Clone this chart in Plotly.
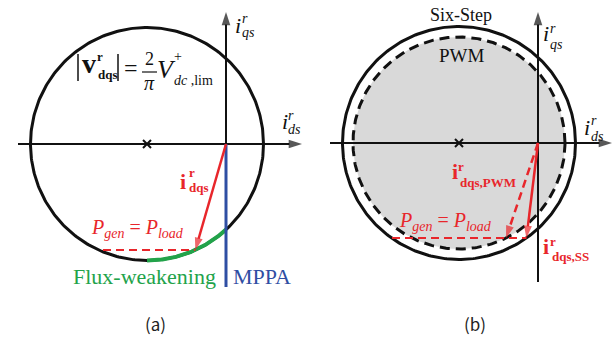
import numpy as np
import plotly.graph_objects as go

W, H = 615, 338
SERIF = "Liberation Serif"
CAPTION = "Noto Sans CJK KR"
RED = "#e8262b"
GREEN = "#22a34a"
BLUE = "#2f4ea3"
INK = "#111111"
GRAY = "#d9d9d9"

# ---- operating-plane quantities (per-unit current), panel (a) and panel (b) ----
panel_tags = ["(a)", "(b)"]
limit_center_id = [-0.79, -0.79]     # centre of the voltage-limit circle on the d-axis
six_step_radius = [1.165, 1.165]     # radius of the six-step voltage-limit circle
pwm_radius = 1.06                    # radius of the PWM voltage-limit circle, panel (b)
p_load_iq = [-1.06, -0.95]           # q-current level where P_gen = P_load
p_line_from_id = [-1.23, -1.46]      # left end of the constant-power guide line

# ---- layout: pixel position of each panel origin, 100 px per unit ----
PX = 100.0
origin_px = [(226, 144), (538, 143)]
panel_px = [(0, 307.5), (307.5, 615)]

fig = go.Figure()
annotations, shapes = [], []


def axes_of(k):
    return ("x", "y") if k == 0 else ("x2", "y2")


def circle(k, r, n=361):
    t = np.linspace(0, 2 * np.pi, n)
    return limit_center_id[k] + r * np.cos(t), r * np.sin(t)


def arc(k, r, t0, t1, n=120):
    t = np.linspace(t0, t1, n)
    return limit_center_id[k] + r * np.cos(t), r * np.sin(t)


def right_branch(k, r, iq):
    return limit_center_id[k] + np.sqrt(r ** 2 - iq ** 2)


def line(k, xs, ys, color, width, dash="solid", head=0):
    xa, ya = axes_of(k)
    fig.add_trace(go.Scatter(
        x=xs, y=ys, xaxis=xa, yaxis=ya,
        mode="lines+markers" if head else "lines",
        line=dict(color=color, width=width, dash=dash),
        marker=dict(symbol="arrow", angleref="previous",
                    size=[0] * (len(xs) - 1) + [head], color=color,
                    line=dict(width=0)),
        hoverinfo="skip", showlegend=False))


def txt(x, y, s, size, color=INK, xanchor="center", family=SERIF):
    annotations.append(dict(
        x=x / W, y=1 - y / H, xref="paper", yref="paper", text=s,
        showarrow=False, xanchor=xanchor, yanchor="middle",
        font=dict(size=size, color=color, family=family)))


def seg(x0, y0, x1, y1, width=1.5, color=INK):
    shapes.append(dict(type="line", xref="paper", yref="paper",
                       x0=x0 / W, y0=1 - y0 / H, x1=x1 / W, y1=1 - y1 / H,
                       line=dict(color=color, width=width)))


# ================= panel (a) =================
k = 0
cx, cy = circle(k, six_step_radius[k])
line(k, cx, cy, INK, 3)
# flux-weakening segment: bottom of the circle up to the q-axis
t_end = -np.arccos(-limit_center_id[k] / six_step_radius[k])
gx, gy = arc(k, six_step_radius[k], -np.pi / 2, t_end)
line(k, gx, gy, GREEN, 4)
# d-q axes
line(k, [-2.08, 0.76], [0, 0], INK, 2, head=14)
line(k, [0, 0], [0, 1.32], INK, 2, head=14)
# MPPA line along the negative q-axis
line(k, [0, 0], [0, -1.43], BLUE, 3)
fig.add_trace(go.Scatter(x=[limit_center_id[k]], y=[0], xaxis="x", yaxis="y",
                         mode="markers", marker=dict(symbol="x-thin", size=8,
                         line=dict(width=2, color=INK)), hoverinfo="skip",
                         showlegend=False))
tip_a = right_branch(k, six_step_radius[k], p_load_iq[k])
line(k, [p_line_from_id[k], tip_a], [p_load_iq[k]] * 2, RED, 2, dash="8px,5px")
line(k, [0, tip_a], [0, p_load_iq[k]], RED, 2.5, head=13)

# ================= panel (b) =================
k = 1
px_, py_ = circle(k, pwm_radius)
fig.add_trace(go.Scatter(x=px_, y=py_, xaxis="x2", yaxis="y2", mode="lines",
                         fill="toself", fillcolor=GRAY, line=dict(width=0),
                         hoverinfo="skip", showlegend=False))
line(k, px_, py_, INK, 3, dash="10px,6px")
sx, sy = circle(k, six_step_radius[k])
line(k, sx, sy, INK, 3)
line(k, [-2.08, 0.74], [0, 0], INK, 2, head=14)
line(k, [0, 0], [-1.39, 1.31], INK, 2, head=14)
fig.add_trace(go.Scatter(x=[limit_center_id[k]], y=[0], xaxis="x2", yaxis="y2",
                         mode="markers", marker=dict(symbol="x-thin", size=8,
                         line=dict(width=2, color=INK)), hoverinfo="skip",
                         showlegend=False))
tip_ss = right_branch(k, six_step_radius[k], p_load_iq[k])
tip_pwm = right_branch(k, pwm_radius, p_load_iq[k])
line(k, [p_line_from_id[k], tip_ss], [p_load_iq[k]] * 2, RED, 2, dash="8px,5px")
line(k, [0, tip_pwm], [0, p_load_iq[k]], RED, 2.5, dash="8px,5px", head=13)
line(k, [0, tip_ss], [0, p_load_iq[k]], RED, 2.5, head=13)

# ================= labels =================
# panel (a) axes
txt(238, 26, "<i>i</i>", 22)
txt(245, 19, "<i>r</i>", 14)
txt(240, 33, "<i>qs</i>", 14, xanchor="left")
txt(284.5, 121.5, "<i>i</i>", 22)
txt(291, 115, "<i>r</i>", 14)
txt(286, 129, "<i>ds</i>", 14, xanchor="left")

# voltage-limit expression
seg(78, 54, 78, 81)
seg(118, 54, 118, 81)
txt(89, 64, "<b>v</b>", 28)
txt(100, 57, "<b>r</b>", 13)
txt(96, 74, "<b>dqs</b>", 13, xanchor="left")
txt(131, 68, "=", 24)
txt(149, 59, "2", 18)
seg(142, 72, 157, 72, width=1.2)
txt(149, 83, "<i>π</i>", 20)
txt(166, 69, "<i>V</i>", 26)
txt(178, 57, "+", 14)
txt(172, 80, "<i>dc</i> ,lim", 14, xanchor="left")

# current vector (a)
txt(183, 181, "<b>i</b>", 22, RED)
txt(192, 173, "<b>r</b>", 13, RED)
txt(187, 188, "<b>dqs</b>", 13, RED, xanchor="left")
txt(137, 228, "<i>P</i><sub><i>gen</i></sub> = <i>P</i><sub><i>load</i></sub>", 20, RED)
txt(144, 276, "Flux-weakening", 22, GREEN)
txt(231, 276, "MPPA", 22, BLUE, xanchor="left")

# panel (b)
txt(461, 15, "Six-Step", 18)
txt(462, 56, "PWM", 19)
txt(546, 34, "<i>i</i>", 22)
txt(553, 29, "<i>r</i>", 14)
txt(548, 44, "<i>qs</i>", 14, xanchor="left")
txt(587, 128, "<i>i</i>", 22)
txt(594, 121, "<i>r</i>", 14)
txt(589, 136, "<i>ds</i>", 14, xanchor="left")
txt(455, 171, "<b>i</b>", 22, RED)
txt(461, 166, "<b>r</b>", 13, RED)
txt(458, 182, "<b>dqs,PWM</b>", 13, RED, xanchor="left")
txt(445, 221, "<i>P</i><sub><i>gen</i></sub> = <i>P</i><sub><i>load</i></sub>", 20, RED)
txt(546, 246, "<b>i</b>", 22, RED)
txt(553, 241, "<b>r</b>", 13, RED)
txt(550, 256, "<b>dqs,SS</b>", 13, RED, xanchor="left")

# panel captions
txt(155, 323, panel_tags[0], 17, "#222", family=CAPTION)
txt(475, 323, panel_tags[1], 17, "#222", family=CAPTION)


def axis_ranges(k):
    ox, oy = origin_px[k]
    l, r = panel_px[k]
    return [(l - ox) / PX, (r - ox) / PX], [-(H - oy) / PX, oy / PX]


xr0, yr0 = axis_ranges(0)
xr1, yr1 = axis_ranges(1)
hidden = dict(visible=False, fixedrange=True)
fig.update_layout(
    width=W, height=H, margin=dict(l=0, r=0, t=0, b=0),
    paper_bgcolor="white", plot_bgcolor="rgba(0,0,0,0)",
    font=dict(family=SERIF),
    xaxis=dict(domain=[0, 0.5], range=xr0, anchor="y", **hidden),
    yaxis=dict(domain=[0, 1], range=yr0, anchor="x", **hidden),
    xaxis2=dict(domain=[0.5, 1], range=xr1, anchor="y2", **hidden),
    yaxis2=dict(domain=[0, 1], range=yr1, anchor="x2", **hidden),
    annotations=annotations, shapes=shapes, showlegend=False,
)
fig.write_html("out.html")
